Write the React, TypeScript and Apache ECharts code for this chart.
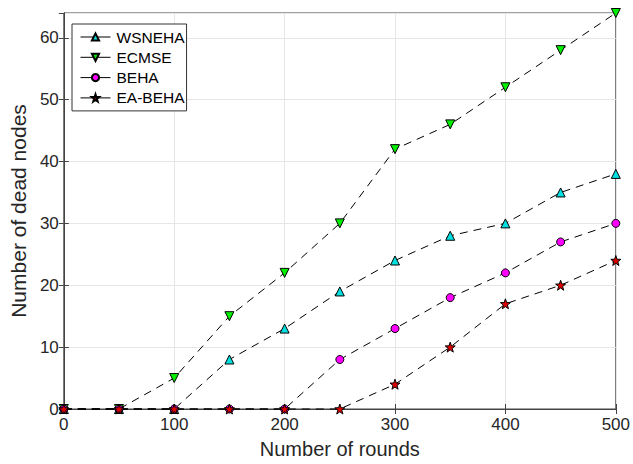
import React, { useEffect, useRef } from "react";
import * as echarts from "echarts";

const rounds = [0, 50, 100, 150, 200, 250, 300, 350, 400, 450, 500];
const wsneha = [0, 0, 0, 8, 13, 19, 24, 28, 30, 35, 38];
const ecmse = [0, 0, 5, 15, 22, 30, 42, 46, 52, 58, 64];
const beha = [0, 0, 0, 0, 0, 8, 13, 18, 22, 27, 30];
const eaBeha = [0, 0, 0, 0, 0, 0, 4, 10, 17, 20, 24];

const downTri = "path://M0,0 L10,0 L5,9 Z";
const upTri = "path://M5,0 L10,9 L0,9 Z";
const star =
  "path://M10,0 L12.35,6.76 L19.51,6.91 L13.8,11.24 L15.88,18.09 L10,14 L4.12,18.09 L6.2,11.24 L0.49,6.91 L7.65,6.76 Z";

const FONT = "Liberation Sans";
const TXT = "#262626";

export default function App() {
  const ref = useRef<HTMLDivElement>(null);
  useEffect(() => {
    if (!ref.current) return;
    const chart = echarts.init(ref.current, null, { renderer: "svg" });
    const mk = (name: string, data: number[], symbol: string, color: string, size: number) => ({
      name,
      type: "line",
      data: rounds.map((r, i) => [r, data[i]]),
      symbol,
      symbolSize: size,
      showAllSymbol: true,
      itemStyle: { color, borderColor: "#000", borderWidth: 1 },
      lineStyle: { color: "#000", width: 1, type: [8, 6] },
      clip: false,
    });
    chart.setOption({
      animation: false,
      textStyle: { fontFamily: FONT },
      grid: { left: 61, right: 11, top: 13, bottom: 52, show: true, borderColor: "#444", borderWidth: 1 },
      legend: {
        orient: "vertical",
        left: 72,
        top: 24,
        backgroundColor: "#fff",
        borderColor: "#333",
        borderWidth: 1,
        borderRadius: 0,
        padding: [5, 2, 5, 8],
        itemGap: 4.3,
        itemWidth: 30,
        itemHeight: 9,
        lineStyle: { type: "solid", width: 1 },
        textStyle: { fontFamily: FONT, fontSize: 15.5, color: "#000", padding: [0, 0, 0, 1] },
        data: ["WSNEHA", "ECMSE", "BEHA", "EA-BEHA"],
      },
      xAxis: [
        {
          type: "value",
          min: 0,
          max: 500,
          interval: 100,
          name: "Number of rounds",
          nameLocation: "middle",
          nameGap: 30,
          nameTextStyle: { fontSize: 20, color: TXT, fontFamily: FONT },
          axisLine: { show: true, onZero: false, lineStyle: { color: "#444" } },
          axisTick: { inside: true, length: 5, lineStyle: { color: "#444" } },
          axisLabel: { fontSize: 17, color: TXT, fontFamily: FONT, margin: 7 },
          splitLine: { show: true, lineStyle: { color: "#e6e6e6" } },
        },
        {
          type: "value",
          position: "top",
          min: 0,
          max: 500,
          interval: 100,
          axisLine: { show: true, lineStyle: { color: "#444" } },
          axisTick: { inside: true, length: 5, lineStyle: { color: "#444" } },
          axisLabel: { show: false },
          splitLine: { show: false },
        },
      ],
      yAxis: [
        {
          type: "value",
          min: 0,
          max: 64,
          interval: 10,
          name: "Number of dead nodes",
          nameLocation: "middle",
          nameGap: 30,
          nameTextStyle: { fontSize: 21, color: TXT, fontFamily: FONT },
          axisLine: { show: true, onZero: false, lineStyle: { color: "#444" } },
          axisTick: { inside: true, length: 5, lineStyle: { color: "#444" } },
          axisLabel: { fontSize: 17, color: TXT, fontFamily: FONT, margin: 5, showMaxLabel: false },
          splitLine: { show: true, lineStyle: { color: "#e6e6e6" } },
        },
        {
          type: "value",
          position: "right",
          min: 0,
          max: 64,
          interval: 10,
          axisLine: { show: true, lineStyle: { color: "#444" } },
          axisTick: { inside: true, length: 5, lineStyle: { color: "#444" } },
          axisLabel: { show: false },
          splitLine: { show: false },
        },
      ],
      series: [
        mk("WSNEHA", wsneha, upTri, "#00e0e0", 9),
        mk("ECMSE", ecmse, downTri, "#00ee00", 9),
        mk("BEHA", beha, "circle", "#ff00ff", 8),
        mk("EA-BEHA", eaBeha, star, "#e00000", 10),
      ],
    });
    return () => chart.dispose();
  }, []);
  return (
    <div
      ref={ref}
      style={{ position: "absolute", left: 0, top: 0, width: 633, height: 464 }}
    />
  );
}
